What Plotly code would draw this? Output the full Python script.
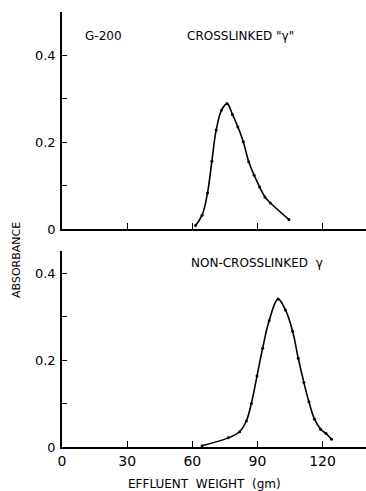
import plotly.graph_objects as go

# Top panel: crosslinked "gamma"
x_cross = [61.5, 64.5, 67.0, 69.0, 71.0, 73.5, 76.0, 78.5, 81.0, 83.5, 86.0, 88.5, 91.0, 93.5, 96.0, 104.5]
y_cross = [0.008, 0.032, 0.083, 0.156, 0.228, 0.274, 0.289, 0.264, 0.235, 0.201, 0.155, 0.124, 0.097, 0.074, 0.060, 0.022]

# Bottom panel: non-crosslinked gamma
x_non = [64.5, 76.5, 81.8, 84.9, 87.2, 89.8, 92.4, 95.4, 99.5, 102.9, 106.2, 108.8, 111.4, 113.7, 116.3, 119.1, 121.6, 124.1]
y_non = [0.003, 0.021, 0.035, 0.060, 0.100, 0.163, 0.227, 0.290, 0.340, 0.315, 0.266, 0.204, 0.148, 0.104, 0.064, 0.041, 0.031, 0.018]

x_tickvals = [0, 30, 60, 90, 120]
x_ticktext = ["0", "30", "60", "90", "120"]
y_tickvals = [0, 0.1, 0.2, 0.3, 0.4]
y_ticktext = ["0", "", "0.2", "", "0.4"]

FONT = "DejaVu Sans"

fig = go.Figure()
line_style = dict(color="black", width=1.6, shape="spline", smoothing=1.1)
marker_style = dict(color="black", size=3)

fig.add_trace(go.Scatter(x=x_cross, y=y_cross, mode="lines+markers", line=line_style,
                         marker=marker_style, xaxis="x", yaxis="y", showlegend=False))
fig.add_trace(go.Scatter(x=x_non, y=y_non, mode="lines+markers", line=line_style,
                         marker=marker_style, xaxis="x2", yaxis="y2", showlegend=False))

xaxis_common = dict(range=[0, 140], showline=True, linecolor="black", linewidth=1.5,
                    ticks="inside", ticklen=6, tickwidth=1.2, tickcolor="black",
                    tickvals=x_tickvals, showgrid=False, zeroline=False)
yaxis_common = dict(showline=True, linecolor="black", linewidth=1.5,
                    ticks="inside", ticklen=5, tickwidth=1.2, tickcolor="black",
                    tickvals=y_tickvals, ticktext=y_ticktext, showgrid=False, zeroline=False,
                    tickfont=dict(family=FONT, size=13, color="black"), ticklabelstandoff=2)

fig.update_layout(
    width=366, height=491,
    margin=dict(l=62, r=0, t=12, b=44),
    paper_bgcolor="white", plot_bgcolor="white",
    xaxis=dict(**xaxis_common, domain=[0, 1], anchor="y", showticklabels=False),
    yaxis=dict(**yaxis_common, domain=[0.501, 1], range=[0, 0.5], anchor="x"),
    xaxis2=dict(**xaxis_common, domain=[0, 1], anchor="y2", ticktext=x_ticktext,
                tickfont=dict(family=FONT, size=14, color="black"), ticklabelstandoff=0),
    yaxis2=dict(**yaxis_common, domain=[0, 0.45], range=[0, 0.45], anchor="x2"),
    annotations=[
        dict(text="G-200", x=18.9, y=0.444, xref="x", yref="y", showarrow=False,
             font=dict(family=FONT, size=12, color="black")),
        dict(text='CROSSLINKED "γ"', x=82.4, y=0.444, xref="x", yref="y", showarrow=False,
             font=dict(family=FONT, size=12, color="black")),
        dict(text="NON-CROSSLINKED  γ", x=89.8, y=0.423, xref="x2", yref="y2", showarrow=False,
             font=dict(family=FONT, size=12, color="black")),
        dict(text="ABSORBANCE", x=-0.148, y=0.43, xref="paper", yref="paper", showarrow=False,
             xanchor="center", yanchor="middle",
             textangle=-90, font=dict(family=FONT, size=11, color="black")),
        dict(text="EFFLUENT  WEIGHT  (gm)", x=0.47, y=-0.085, xref="paper", yref="paper",
             xanchor="center", yanchor="middle",
             showarrow=False, font=dict(family=FONT, size=12, color="black")),
    ],
)

fig.write_html("out.html")
